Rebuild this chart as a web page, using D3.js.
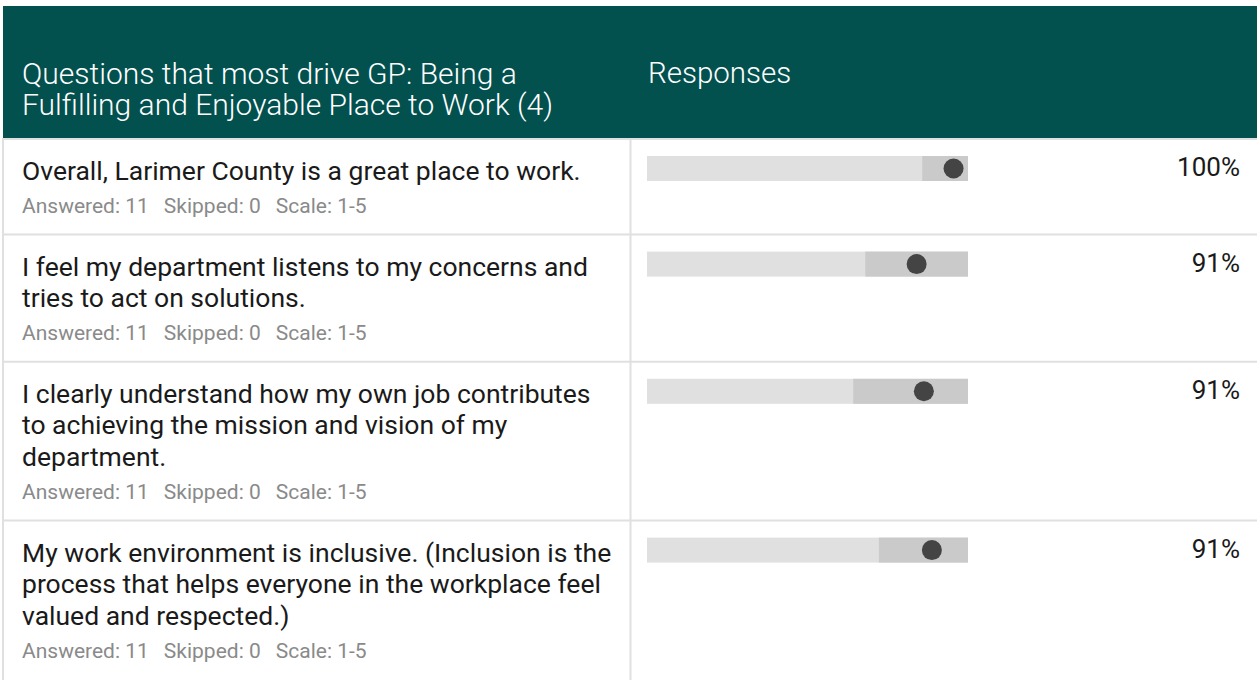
<!DOCTYPE html>
<html>
<head>
<meta charset="utf-8">
<script src="https://cdn.jsdelivr.net/npm/d3@7"></script>
<style>
  html, body { margin: 0; padding: 0; background: #fff; }
  svg { display: block; font-family: Roboto, "Noto Sans", sans-serif; }
</style>
</head>
<body>
<svg id="chart" width="1257" height="680"></svg>
<script>
// header texts
var titleLines = ["Questions that most drive GP: Being a", "Fulfilling and Enjoyable Place to Work (4)"];
var columnTitle = "Responses";

// one entry per question (lines as they wrap in the original)
var questionLines = [
  ["Overall, Larimer County is a great place to work."],
  ["I feel my department listens to my concerns and", "tries to act on solutions."],
  ["I clearly understand how my own job contributes", "to achieving the mission and vision of my", "department."],
  ["My work environment is inclusive. (Inclusion is the", "process that helps everyone in the workplace feel", "valued and respected.)"]
];
var answered = [11, 11, 11, 11];
var skipped = [0, 0, 0, 0];
var scaleText = ["1-5", "1-5", "1-5", "1-5"];
var means = [4.82, 4.36, 4.45, 4.55];      // dot
var bandLow = [4.43, 3.72, 3.57, 3.89];    // darker band start
var bandHigh = [5, 5, 5, 5];               // darker band end
var percents = [100, 91, 91, 91];
var scaleDomain = [1, 5];

var svg = d3.select("#chart");
var W = 1257, H = 680;
var colX = 630.5;
var headerTop = 6, headerBottom = 138;
var lineH = 31.6;

var x = d3.scaleLinear().domain(scaleDomain).range([647, 968]);

// row layout from number of text lines
var rows = [];
var yCursor = headerBottom + 2;
questionLines.forEach(function(lines, i) {
  var h = 64 + lineH * lines.length;
  rows.push({i: i, top: yCursor, h: h, lines: lines});
  yCursor += h;
});

// header
svg.append("rect")
  .attr("x", 3).attr("y", headerTop)
  .attr("width", W - 3).attr("height", headerBottom - headerTop)
  .attr("fill", "#02514f");

svg.append("g").selectAll("text")
  .data(titleLines)
  .enter().append("text")
  .attr("x", 22)
  .attr("y", function(d, i) { return 84 + i * 31; })
  .attr("fill", "#fff")
  .style("font-size", "30px")
  .style("font-weight", 300)
  .text(function(d) { return d; });

svg.append("text")
  .attr("x", 648).attr("y", 83)
  .attr("fill", "#fff")
  .style("font-size", "29.5px")
  .style("font-weight", 300)
  .text(columnTitle);

// grid lines
var grid = svg.append("g").attr("stroke", "#e0e0e0").attr("stroke-width", 2);
grid.append("line").attr("x1", 3).attr("x2", W).attr("y1", headerBottom + 1).attr("y2", headerBottom + 1);
grid.append("line").attr("x1", 3).attr("x2", 3).attr("y1", headerBottom).attr("y2", H);
grid.append("line").attr("x1", colX).attr("x2", colX).attr("y1", headerBottom).attr("y2", H);
grid.selectAll(".sep")
  .data(rows.slice(1))
  .enter().append("line")
  .attr("class", "sep")
  .attr("x1", 3).attr("x2", W)
  .attr("y1", function(d) { return d.top - 1; })
  .attr("y2", function(d) { return d.top - 1; });

var row = svg.append("g").selectAll("g.row")
  .data(rows)
  .enter().append("g")
  .attr("class", "row")
  .attr("transform", function(d) { return "translate(0," + d.top + ")"; });

// question text
row.each(function(d) {
  var g = d3.select(this);
  g.selectAll("text.q")
    .data(d.lines)
    .enter().append("text")
    .attr("class", "q")
    .attr("x", 22)
    .attr("y", function(l, j) { return 40 + j * lineH; })
    .attr("fill", "#1a1a1a")
    .style("font-size", "26.5px")
    .text(function(l) { return l; });

  var meta = g.append("text")
    .attr("x", 22)
    .attr("y", 40 + (d.lines.length - 1) * lineH + 33)
    .attr("fill", "#8a8a8a")
    .style("font-size", "21px");
  meta.append("tspan").text("Answered: " + answered[d.i]);
  meta.append("tspan").attr("dx", 15).text("Skipped: " + skipped[d.i]);
  meta.append("tspan").attr("dx", 15).text("Scale: " + scaleText[d.i]);
});

// bars
var barY = 16, barH = 25;
row.append("rect")
  .attr("x", x(scaleDomain[0]))
  .attr("y", barY)
  .attr("width", x(scaleDomain[1]) - x(scaleDomain[0]))
  .attr("height", barH)
  .attr("fill", "#e0e0e0");

row.append("rect")
  .attr("x", function(d) { return x(bandLow[d.i]); })
  .attr("y", barY)
  .attr("width", function(d) { return x(bandHigh[d.i]) - x(bandLow[d.i]); })
  .attr("height", barH)
  .attr("fill", "#cacaca");

row.append("circle")
  .attr("cx", function(d) { return x(means[d.i]); })
  .attr("cy", barY + barH / 2)
  .attr("r", 10)
  .attr("fill", "#444");

row.append("text")
  .attr("x", 1240)
  .attr("y", barY + 20)
  .attr("text-anchor", "end")
  .attr("fill", "#1a1a1a")
  .style("font-size", "26px")
  .text(function(d) { return percents[d.i] + "%"; });
</script>
</body>
</html>
